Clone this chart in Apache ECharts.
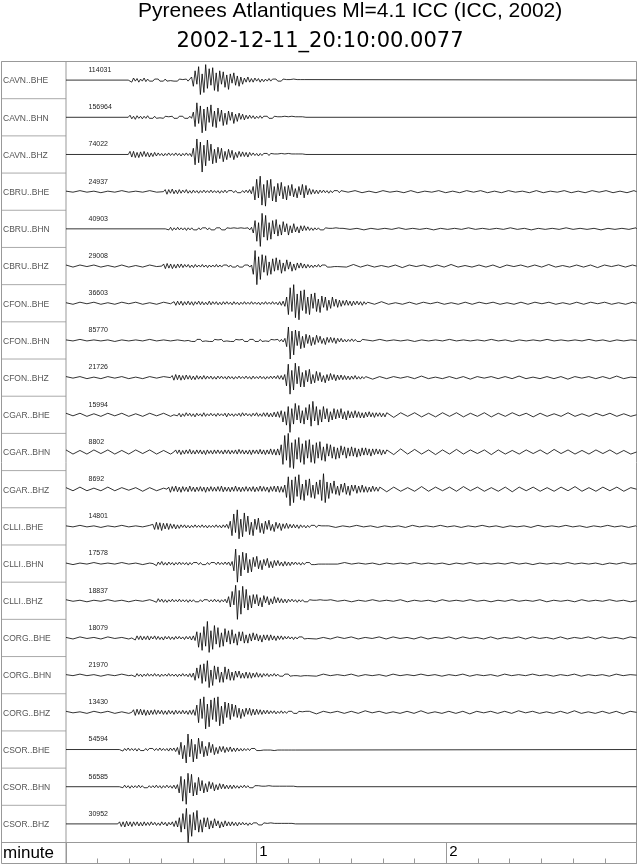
<!DOCTYPE html>
<html>
<head>
<meta charset="utf-8">
<script src="https://cdn.jsdelivr.net/npm/echarts@6.0.0/dist/echarts.min.js"></script>
<style>
  html, body { margin: 0; padding: 0; background: #fff; }
  #chart { width: 640px; height: 866px; }
</style>
</head>
<body>
<div id="chart"></div>
<script>
// Seismogram section: one row per channel, time axis in seconds (0..180 s = 3 minutes).
const TITLE = "Pyrenees Atlantiques Ml=4.1 ICC (ICC, 2002)";
const SUBTITLE = "2002-12-11_20:10:00.0077";
const AXIS_NAME = "minute";

const CHANNELS = [
  "CAVN..BHE", "CAVN..BHN", "CAVN..BHZ",
  "CBRU..BHE", "CBRU..BHN", "CBRU..BHZ",
  "CFON..BHE", "CFON..BHN", "CFON..BHZ",
  "CGAR..BHE", "CGAR..BHN", "CGAR..BHZ",
  "CLLI..BHE", "CLLI..BHN", "CLLI..BHZ",
  "CORG..BHE", "CORG..BHN", "CORG..BHZ",
  "CSOR..BHE", "CSOR..BHN", "CSOR..BHZ",
];
// peak counts printed on each trace
const AMPS = [114031, 156964, 74022, 24937, 40903, 29008, 36603, 85770, 21726,
  15994, 8802, 8692, 14801, 17578, 18837, 18079, 21970, 13430, 54594, 56585, 30952];

// seconds where the dense part of each trace begins
const START = [20.2, 20.2, 20.2, 31.3, 31.9, 30.8, 34.1, 39.1, 33.5, 34.6, 34.6, 32.4,
  27.4, 28, 28, 21.3, 21.3, 21.3, 17.4, 17.4, 16.9];

// slow wobble before the data window, one value every DT_SLOW from t=0
const PRE = [
  [], [], [],
  [0.5,-0.5,1,-0.5,0.5,-1,0.5,-0.5,1,-0.5,0.5,-0.5,1,-0.5],
  [],
  [1,-1,1,-0.5,1,-1,0.5,-1,1,-1,0.5,-1,1,-0.5],
  [0.5,-1,1,-0.5,1,-1,0.5,-1,1,-0.5,1,-1,0.5,-1,1,-0.5],
  [0.5,-0.5,1,-0.5,0.5,-0.5,0.5,-1,0.5,-0.5,0.5,-0.5,1,-0.5,0.5,-0.5,0.5,-0.5],
  [1,-0.5,1,-1,0.5,-1,1,-0.5,1,-1,0.5,-1,1,-0.5,1],
  [1.5,-1,1.5,-1.5,1,-1.5,1.5,-1,1.5,-1.5,1,-1.5,1.5,-1,1.5,-1.5],
  [2,-2,1.5,-2,2,-1.5,2,-2,1.5,-2,2,-1.5,2,-2,1.5,-2],
  [1.5,-1.5,2,-1.5,1,-1.5,2,-1.5,1.5,-1,1.5,-2,1.5,-1.5,1],
  [0.5,-0.5,1,-0.5,0.5,-1,0.5,-0.5,1,-0.5,0.5,-0.5,1],
  [0.5,-1,0.5,-0.5,1,-0.5,0.5,-0.5,1,-0.5,0.5,-1,0.5],
  [1,-0.5,0.5,-1,0.5,-0.5,1,-0.5,0.5,-1,0.5,-0.5,1],
  [0.5,-1,1,-0.5,0.5,-1,1,-0.5,0.5,-1],
  [0.5,-0.5,1,-0.5,0.5,-1,0.5,-0.5,1,-0.5],
  [1,-0.5,0.5,-1,1,-0.5,1,-1,0.5,-1],
  [], [], [],
];

// dense part, one value every DT_SIG from START (row half-height ~18 units)
const SIG = [
  // CAVN..BHE
  [1,-2,2,-1,1.5,-2,1,-1,2,-1.5,1,-1,0.5,-1,1,-0.5,1,-1,0.5,-1,1,-1,0.5,-0.5,1,-1,0.5,-1,1,-0.5,0.5,-1,1,-1,0.5,
   3,-6,9,-4,13,-14,6,-12,15,-8, 11,-5,12,-10,7,-11,9,-4,8,-7, 5,-9,6,-3,7,-5,4,-6,3,-4,
   2,-2,3,-2,1.5,-2,2,-1,1.5,-2,1,-1.5,1,-1,1.5,
   -1,1,-0.5,1,-1,0.5,-1,1,-0.5,0.5,-1,0.5,-0.5,1,-0.5,0.5,-1,0.5,-0.5,0.5],
  // CAVN..BHN
  [2,-1.5,1,-2,1.5,-1,1,-1.5,1,-1,1.5,-1,0.5,-1,1,-1,0.5,-0.5,1,-1,1,-0.5,0.5,-1,1,-1,0.5,-1,1,-0.5,1,-1,0.5,-1,1,-1,
   5,-9,14,-6,11,-15,8,-13,10,-5, 12,-9,6,-10,9,-4,7,-8,4,-7, 6,-3,5,-6,3,-4,4,-2,3,-2.5,
   2,-1.5,2,-1,1.5,-1.5,1,-1,1.5,-1,1,-0.5,1,-1,
   0.5,-1,1,-0.5,0.5,-1,0.5,-0.5,1,-0.5,0.5,-0.5,1,-0.5,0.5,-1,0.5,-0.5,0.5,-0.5],
  // CAVN..BHZ
  [3,-2.5,3,-3,2,-3,2.5,-2,3,-2,2,-2.5,1.5,-2,2,-1.5,1.5,-1,1,-1.5,1,-1,1.5,-1,1,-1,1.5,-1,1,-1.5,1,-1,1.5,-1,1,-2,
   6,-10,15,-8,12,-17,9,-11,14,-6, 10,-9,5,-8,7,-4,6,-7,3,-5, 5,-3,4,-5,2,-3,3,-2,2.5,-2,
   2,-2.5,2,-1,1.5,-1,1,-1.5,1,-1,1,-0.5,1,-1,
   1,-0.5,0.5,-1,0.5,-0.5,1,-0.5,0.5,-0.5,1,-0.5,0.5,-0.5,0.5,-1,0.5,-0.5,0.5,-0.5],
  // CBRU..BHE
  [2,-2.5,2,-1.5,2.5,-2,1.5,-2,2,-1.5,1.5,-1,2,-1.5,1,-1.5,1.5,-1,1,-1.5,1,-1,1.5,-1,1,-1,1.5,-1,1,-1,
   1,-1.5,1,-1,1.5,-1,1,-0.5,1,-1,1,-1,0.5,-1,1,-1,1.5,-1,2,-2,
   5,-8,12,-6,15,-13,7,-14,11,-6, 12,-9,5,-10,8,-4,9,-7,5,-8, 6,-4,7,-5,3,-6,5,-3,7,-6,
   6,-3,3,-2.5,2,-2,1.5,-2,1.5,-1, 1.5,-1,1,-1.5,1,-1,1,-0.5,1,-1],
  // CBRU..BHN
  [1.5,-1,1.5,-1.5,1,-1,1.5,-1,1,-1,1,-1.5,1,-1,1,-1,0.5,-1,1,-1,1,-0.5,1,-1,1,-1,0.5,-1,1,-0.5,
   1,-1,0.5,-1,1,-0.5,0.5,-1,1,-0.5,0.5,-0.5,1,-0.5,0.5,-1,1,-1,1.5,
   -4,8,-12,6,-17,15,-8,13,-11,6, -10,8,-5,9,-7,4,-6,7,-3,5, -6,3,-4,5,-3,2,-4,3,-2,3,
   -1.5,2,-1.5,1,-1.5,1,-1,1,-1,0.5,-1,1,-0.5,0.5,-1,0.5,-0.5,1,-0.5,0.5,-0.5],
  // CBRU..BHZ
  [2,-2.5,2.5,-2,2,-2.5,1.5,-2,2,-1.5,2,-1.5,1.5,-1,1.5,-1.5,1,-1.5,1.5,-1,1,-1,1.5,-1,1,-1.5,1,-1,1,-1,
   1.5,-1,1,-1,1,-0.5,1,-1,1,-1,0.5,-1,1,-1,0.5,-1,1,-0.5,1,-1,1,
   -8,15,-18,9,-13,11,-6,10,-9,4, -8,7,-5,8,-4,6,-7,3,-5,6, -3,4,-5,2,-4,3,-2,3,-2,2,
   -2,1.5,-1.5,1,-1.5,1,-1,1.5,-1,1,-0.5,1,-1,0.5,-1,0.5,-0.5,1,-0.5],
  // CFON..BHE
  [1.5,-2,2,-1.5,2,-2,1.5,-1.5,2,-1.5,1.5,-2,1.5,-1,2,-1.5,1.5,-1.5,1,-1.5,2,-1.5,1.5,-1,1.5,-1.5,1,-1.5,1.5,-1,
   1.5,-1,1,-1.5,1.5,-1,1,-1.5,1,-1,1.5,-1,1,-1,1.5,-1,1,-1,1,-1.5,1,-1,1.5,-1,1,-1,1.5,-1,1,-1.5,1.5,-2,2,-3,
   6,-11,15,-8,18,-14,9,-16,12,-7, 13,-10,6,-11,9,-5,10,-8,4,-9, 7,-4,6,-7,3,-5,6,-3,4,-4,
   3,-3,2.5,-2,3,-2,2,-2.5,2,-1.5,2,-1.5,1.5,-2,1.5,-1],
  // CFON..BHN
  [1,-1,0.5,-1,1,-0.5,1,-1,0.5,-0.5,1,-1,0.5,-1,1,-0.5,0.5,-1,1,-1,0.5,-0.5,1,-1,0.5,-1,1,-0.5,0.5,-1,
   1,-1,0.5,-1,1,-0.5,1,-1,0.5,-1,1,-1,0.5,-0.5,1,-1,1,-0.5,0.5,-1,1,-1,1,-1.5,2,
   -6,13,-18,9,-14,10,-5,9,-8,4, -7,6,-3,5,-5,3,-4,5,-2,4, -3,2,-4,3,-2,3,-2,2.5,-3,2,
   -1.5,2,-1.5,1,-1.5,1,-1,1.5,-1,1,-1,0.5,-1,1,-0.5],
  // CFON..BHZ
  [2,-2.5,3,-2,2.5,-2.5,2,-2,2.5,-1.5,2,-2,1.5,-2,2,-1.5,1.5,-1.5,2,-1.5,1.5,-1,1.5,-1.5,1,-1.5,1.5,-1,1.5,-1,
   1,-1.5,1.5,-1,1,-1.5,1,-1,1.5,-1,1,-1,1.5,-1,1,-1.5,1.5,-1,1,-1,1.5,-1,1,-1.5,1,-1,1.5,-1,1.5,-1,2,-1.5,2,-2,3,
   -8,13,-16,7,-12,14,-6,11,-9,5, -9,7,-4,8,-6,3,-5,6,-3,5, -4,2,-5,3,-3,4,-2,3,-3,2.5,
   -2,2.5,-2,2,-2,1.5,-2,1.5,-1.5,2,-1.5,1,-1.5,1,-1],
  // CGAR..BHE
  [1.5,-1,1.5,-2,1,-1.5,2,-1,1.5,-1.5,1,-2,1.5,-1,1,-1.5,2,-1.5,1,-1,1.5,-1,1,-1.5,1.5,-1,1,-1,1.5,-2,
   1.5,-1,1,-1.5,1,-1,1.5,-1.5,2,-1,1.5,-1,1,-1.5,1.5,-1,2,-1.5,1,-1.5,2,-1.5,2,-2,1.5,-2,2.5,-2,3,-2.5,
   4,-7,3,-10,8,-17,6,-9,11,-5, 9,-8,4,-9,7,-5,10,-11,13,-6, 8,-10,5,-7,8,-4,6,-7,3,-5, 6,-4,5,-3,6,-4,3,-5,4,-3,
   3,-3,4,-2.5,3,-3,2,-3,2.5,-2,3,-2,2,-2.5,2,-1.5,2,-2,1.5,-2],
  // CGAR..BHN
  [2,-1.5,2,-2.5,1.5,-2,2,-1.5,2.5,-2,1.5,-2,2,-1.5,2,-2,1.5,-2.5,2,-1.5,1.5,-2,2,-1.5,2,-1.5,1.5,-2,2,-1.5,
   2,-2,1.5,-1.5,2,-2,2.5,-1.5,2,-2,1.5,-2,2,-2.5,2,-1.5,2,-2,2.5,-2,2,-2.5,2,-2,3,-2.5,2.5,-3,3,-3,
   7,-12,16,-8,18,-15,9,-16,12,-7, 14,-10,8,-12,11,-6,12,-10,7,-11, 9,-6,10,-8,5,-9,8,-4,7,-6, 5,-7,4,-6,6,-3,5,-6,4,-4,
   5,-4,4,-5,3,-4,4,-3,4,-3,3,-4,3,-2.5,3,-2,2.5,-3,2,-2],
  // CGAR..BHZ
  [2,-3,2.5,-2,3,-2.5,2,-3,2.5,-2,2,-2.5,3,-2,2,-2.5,2,-2,2.5,-2,2,-3,2,-2,2.5,-2,2,-2,2.5,-2,
   3,-2.5,2,-2,2,-2.5,2,-2,3,-2,2,-2.5,2,-2,2.5,-2,2,-2,2.5,-2.5,2,-2,3,-2,2.5,-2,2,-3,2.5,-2,3,-2.5,3,-3,2.5,-3,4,
   -8,12,-16,9,-13,12,-7,14,-10,5, -11,9,-6,10,-8,4,-9,7,-5,9, -11,15,-13,7,-9,6,-4,8,-5,3, -6,5,-3,6,-5,3,-6,4,-2,4,
   -4,3,-3,4,-3,2.5,-3,2,-2.5,3,-2,2,-2],
  // CLLI..BHE
  [2,-3,4,-3,3.5,-4,3,-2.5,3,-3,2.5,-2,2,-2.5,1.5,-2,1.5,-1,1.5,-1.5,1,-1.5,1,-1,1.5,-1,1,-1,1.5,-1,
   1,-1.5,1,-1,1,-1,1.5,-1,1,-1.5,1.5,-1,2,-2,
   5,-9,12,-6,16,-12,7,-10,13,-5, 10,-8,4,-9,7,-3,8,-6,3,-7, 5,-3,6,-4,2,-5,4,-2,3,-4,
   2.5,-2,3,-2,2,-1.5,2,-1.5,1.5,-2,1.5,-1,1,-1.5,1,-1,1,-0.5,1,-1,1,-0.5,0.5,-1,0.5,-0.5],
  // CLLI..BHN
  [1.5,-2,1.5,-1,2,-1.5,1,-1.5,1.5,-1,1,-1.5,1,-1,1.5,-1,1,-1,1,-1.5,1,-1,1,-0.5,1,-1,1,-1,0.5,-1,
   1,-1,1,-0.5,1,-1,1.5,-1,1,-1,1.5,-1,1.5,-2,2,
   -7,14,-18,8,-12,11,-6,10,-9,4, -8,6,-3,7,-5,3,-6,4,-2,5, -4,2,-4,3,-2,3,-2,1.5,-2.5,2,
   -2,1.5,-2,1.5,-1,1.5,-1,1,-1.5,1,-1,1,-0.5,1,-1,0.5,-1,0.5,-0.5,1,-0.5,0.5,-0.5,1,-0.5],
  // CLLI..BHZ
  [1.5,-1.5,2,-1,1.5,-1.5,1,-1.5,1,-1,1.5,-1,1,-1,1.5,-1,1,-1,1,-1.5,1,-1,1,-1,0.5,-1,1,-1,1,-0.5,
   1,-1,1,-1,1.5,-1,1,-1.5,1,-1,1.5,-2,
   4,-6,9,-4,15,-18,10,-13,14,-7, 11,-9,5,-7,6,-3,6,-5,3,-6, 5,-2,4,-4,2,-3,4,-2,3,-2,
   2,-2,1.5,-2,1.5,-1,1.5,-1,1,-1.5,1,-1,1,-1,0.5,-1,1,-0.5,0.5,-1,0.5,-0.5,1,-0.5,0.5,-0.5,0.5,-0.5],
  // CORG..BHE
  [1.5,-2,2,-1.5,2,-2,1.5,-1.5,2,-2,1.5,-1,2,-1.5,1.5,-1.5,1,-2,1.5,-1,1.5,-1.5,1,-1.5,1.5,-1,1.5,-1,1,-1.5,
   1.5,-1,1.5,-2,2,-2.5,
   6,-9,5,-12,11,-8,16,-14,7,-11, 12,-6,10,-9,5,-8,9,-4,7,-6, 8,-5,4,-7,6,-3,6,-5,3,-5, 4,-3,5,-2,4,-3,2.5,-4,3,-2,
   3,-2.5,3,-2,2,-2.5,2,-1.5,2,-1.5,1.5,-1,1.5,-1,1,-1.5,1,-1,1,-0.5,1,-1,0.5,-0.5],
  // CORG..BHN
  [1,-1.5,1.5,-1,1,-1.5,1,-1,1.5,-1,1,-1,1.5,-1,1,-1.5,1,-1,1,-1,1.5,-1,1,-1,1,-1.5,1,-1,1.5,-1,
   1,-1.5,1.5,-2,2,
   -5,7,-3,10,-8,11,-6,14,-12,5, -10,9,-4,8,-7,3,-7,8,-4,6, -5,3,-5,4,-2,4,-3,2,-3,3,
   -3,2.5,-3,2,-2,2.5,-2,1.5,-2,1.5,-1,1.5,-1.5,1,-1,1.5,-1,1,-1,0.5,-1,1,-0.5,1,-1,0.5,-0.5,1,-0.5,0.5,-1,0.5,-0.5,0.5,-0.5],
  // CORG..BHZ
  [2.5,-3,3,-2,3,-2.5,2.5,-3,2,-2.5,2,-2,2.5,-2,2,-1.5,2,-2,1.5,-2,2,-1.5,1.5,-2,2,-1.5,1.5,-1.5,2,-1.5,
   1.5,-2,2,-2,2.5,-3,
   7,-10,13,-6,15,-16,8,-14,12,-7, 14,-9,15,-13,6,-11,10,-5,9,-7, 8,-4,7,-5,4,-6,3,-4,4,-2,
   4,-3,3,-2.5,3,-2,2.5,-2,2,-1.5,2,-1.5,1.5,-1,1.5,-1.5,1,-1,1.5,-1,1,-1,1,-0.5,1,-1,0.5,-1,1,-0.5,0.5,-0.5,1,-0.5],
  // CSOR..BHE
  [1,-1.5,1,-1,1.5,-1,1,-1,1,-1.5,1,-1,0.5,-1,1,-1,1,-0.5,1,-1,1,-1,1.5,-1,1,-1,1,-1.5,1.5,-1,
   1.5,-2,2,
   -5,7,-9,4,-13,15,-7,10,-12,5, -9,11,-4,8,-7,3,-6,7,-3,5, -5,2,-4,3,-2,3,-3,2,-2,2.5,
   -2,1.5,-2,1.5,-1.5,1,-1.5,1,-1,1,-1,1,-0.5,1,-1,0.5,-1,0.5,-0.5,1,-0.5,0.5,-0.5,0.5,-1,0.5,-0.5,0.5,-0.5,0.5,-0.5,1,-0.5,0.5,-0.5,0.5,-0.5],
  // CSOR..BHN
  [1,-1,1.5,-1,1,-1.5,1,-1,1,-1,1.5,-1,1,-1,0.5,-1,1,-1,1,-1,1.5,-1,1,-1.5,1,-1,1.5,-1,1,-1.5,
   1.5,-2,2,
   -6,10,-14,7,-17,13,-6,12,-9,4, -8,9,-4,6,-6,3,-5,5,-2,4, -4,2,-3,3,-2,2.5,-2,1.5,-2,1.5,
   -2,1.5,-1.5,1,-1.5,1,-1,1.5,-1,1,-1,0.5,-1,1,-0.5,1,-0.5,0.5,-1,0.5,-0.5,1,-0.5,0.5,-0.5,0.5,-0.5,0.5,-1,0.5,-0.5,0.5,-0.5,0.5,-0.5,0.5,-0.5],
  // CSOR..BHZ
  [2,-2.5,2,-3,2.5,-2,2,-2.5,2,-1.5,2,-2,1.5,-2,2,-1.5,1.5,-1.5,2,-1,1.5,-1.5,1,-1.5,2,-1,1.5,-2,1.5,-1,
   2,-2.5,3,-3,
   6,-8,10,-5,15,-18,9,-12,11,-6, 13,-8,4,-8,6,-3,6,-5,3,-4, 5,-2,3,-4,2,-3,3,-2,2,-2,
   2,-1.5,1.5,-2,1.5,-1,1.5,-1,1,-1.5,1,-1,1,-0.5,1,-1,0.5,-1,1,-0.5,0.5,-0.5,1,-0.5,0.5,-0.5,0.5,-1,0.5,-0.5,0.5,-0.5,0.5,-0.5,0.5,-0.5],
];

// slow wobble after the dense part, one value every DT_SLOW
const TAIL = [
  [], [], [],
  [1,-0.5,1,-1,0.5,-1,1,-0.5,0.5,-1,1,-1,0.5,-0.5,1,-1,0.5,-1,1,-0.5,1,-1,0.5,-1,1,-0.5,0.5,-1,1,-1,0.5,-0.5,1,-1,0.5,-1,1,-0.5,1,-1,0.5,-1,1,-0.5,0.5,-1,1,-1,0.5,-0.5,1,-0.5],
  [0.5,-0.5,0.5,-1,0.5,-0.5,0.5,-0.5,1,-0.5,0.5,-0.5,0.5,-1,0.5,-0.5,0.5,-0.5,1,-0.5,0.5,-0.5,0.5,-0.5,1,-0.5,0.5,-1,0.5,-0.5,0.5,-0.5,1,-0.5,0.5,-0.5,0.5,-1,0.5,-0.5,0.5,-0.5,1,-0.5,0.5,-0.5,0.5,-0.5,1,-0.5,0.5],
  [1,-1,1.5,-1,1,-1,0.5,-1,1,-1.5,1,-0.5,1,-1,1,-1,1.5,-1,0.5,-1,1,-1,1,-1.5,1,-0.5,1,-1,1,-1,1.5,-1,0.5,-1,1,-1,1,-1.5,1,-0.5,1,-1,1,-1,1.5,-1,0.5,-1,1,-1,1,-1],
  [1,-1,1.5,-1,0.5,-1,1,-1,1,-0.5,1,-1,0.5,-1,1,-1,1,-0.5,1,-1,0.5,-1,1,-1,1,-0.5,1,-1,0.5,-1,1,-1,1,-0.5,1,-1,0.5,-1,1,-1,1,-0.5,1,-1,0.5,-1,1,-1],
  [0.5,-0.5,1,-0.5,0.5,-0.5,0.5,-1,0.5,-0.5,0.5,-0.5,1,-0.5,0.5,-0.5,0.5,-0.5,1,-0.5,0.5,-1,0.5,-0.5,0.5,-0.5,1,-0.5,0.5,-0.5,0.5,-0.5,1,-0.5,0.5,-1,0.5,-0.5,0.5,-0.5,1,-0.5,0.5,-0.5,0.5,-0.5,1,-0.5],
  [1,-1.5,1,-1,1,-0.5,1,-1,1.5,-1,0.5,-1,1,-1,1,-1.5,1,-0.5,1,-1,1,-1,1.5,-1,0.5,-1,1,-1,1,-1.5,1,-0.5,1,-1,1,-1,1.5,-1,0.5,-1,1,-1,1,-1.5,1,-0.5,1,-1],
  [2,-2.5,2,-1.5,2,-2,1.5,-2,2,-1.5,2,-2,1.5,-1.5,2,-2,1.5,-1.5,2,-1,1.5,-2,1.5,-1.5,1,-1.5,2,-1.5,1,-1.5,1.5,-1,1.5,-1.5,1,-1.5,1.5,-1,1.5,-1,1,-1.5,1.5,-1,1],
  [2,-2.5,3,-2,2.5,-2,2,-2.5,2,-2,2.5,-2,2,-1.5,2,-2.5,2,-2,1.5,-2,2,-1.5,2,-2,2.5,-1.5,2,-2,1.5,-2,2,-1.5,2,-2,1.5,-2,2,-1.5,1.5,-2,2,-1.5,1.5,-2,1.5],
  [2,-2.5,2,-2,1.5,-2,2.5,-2,2,-1.5,2,-2,2.5,-1.5,2,-2,1.5,-2,2,-2.5,2,-1.5,2,-2,1.5,-2,2,-1.5,2.5,-2,1.5,-2,2,-1.5,2,-2,1.5,-2,2,-1.5,2,-2,1.5,-1.5,2,-1.5],
  [0.5,-1,0.5,-0.5,1,-0.5,0.5,-1,0.5,-0.5,0.5,-1,1,-0.5,0.5,-0.5,1,-0.5,0.5,-1,0.5,-0.5,1,-0.5,0.5,-1,0.5,-0.5,0.5,-1,1,-0.5,0.5,-0.5,1,-0.5,0.5,-1,0.5,-0.5,1,-0.5,0.5,-1,0.5,-0.5,0.5,-1,1,-0.5,0.5,-0.5,0.5],
  [0.5,-0.5,1,-0.5,0.5,-0.5,0.5,-1,0.5,-0.5,0.5,-0.5,1,-0.5,0.5,-0.5,0.5,-1,0.5,-0.5,1,-0.5,0.5,-0.5,0.5,-0.5,1,-0.5,0.5,-1,0.5,-0.5,0.5,-0.5,1,-0.5,0.5,-0.5,0.5,-1,0.5,-0.5,1,-0.5,0.5,-0.5,0.5,-0.5,1,-0.5,0.5,-1,0.5],
  [1,-0.5,0.5,-1,0.5,-0.5,1,-0.5,0.5,-0.5,1,-1,0.5,-0.5,0.5,-1,1,-0.5,0.5,-0.5,1,-0.5,0.5,-1,0.5,-0.5,1,-0.5,0.5,-0.5,1,-1,0.5,-0.5,0.5,-1,1,-0.5,0.5,-0.5,1,-0.5,0.5,-1,0.5,-0.5,1,-0.5,0.5,-0.5,1,-1,0.5],
  [1,-1,0.5,-1,1,-0.5,1,-1,0.5,-0.5,1,-1,1,-0.5,0.5,-1,1,-1,0.5,-0.5,1,-1,1,-0.5,0.5,-1,1,-1,0.5,-0.5,1,-1,1,-0.5,0.5,-1,1,-1,0.5,-0.5,1,-1,1,-0.5,0.5,-1,1,-1,0.5,-0.5,1,-1,1,-0.5,0.5,-1],
  [0.5,-1,1,-0.5,0.5,-0.5,1,-1,0.5,-0.5,0.5,-1,1,-0.5,0.5,-0.5,1,-0.5,0.5,-1,0.5,-0.5,1,-1,0.5,-0.5,0.5,-1,1,-0.5,0.5,-0.5,1,-0.5,0.5,-1,0.5,-0.5,1,-1,0.5,-0.5,0.5,-1,1,-0.5,0.5,-0.5,1,-0.5,0.5,-1,0.5,-0.5,1,-0.5],
  [1,-1.5,1,-0.5,1,-1,1,-1,1.5,-0.5,1,-1,0.5,-1,1,-1,1.5,-1,0.5,-1,1,-1,1,-1.5,1,-0.5,1,-1,1,-1,1.5,-0.5,1,-1,0.5,-1,1,-1,1.5,-1,0.5,-1,1,-1,1,-1.5,1,-0.5,1,-1,1,-1,1.5,-0.5,1,-1],
  [], [], [],
];

const T_MAX = 180;          // 3 minutes
const DT_SIG = 0.555, DT_SLOW = 2.2;
const FONT = "'Liberation Sans', Arial, Helvetica, sans-serif";

function trace(k) {
  const pts = [];
  if (!PRE[k].length) pts.push([0, 0]);
  PRE[k].forEach((v, i) => pts.push([i * DT_SLOW, v]));
  pts.push([START[k] - DT_SIG, 0]);
  SIG[k].forEach((v, i) => pts.push([START[k] + i * DT_SIG, v]));
  const t1 = START[k] + SIG[k].length * DT_SIG;
  if (!TAIL[k].length) pts.push([t1, 0]);
  TAIL[k].forEach((v, i) => pts.push([t1 + i * DT_SLOW, v]));
  const out = pts.filter((p) => p[0] <= T_MAX);
  if (out[out.length - 1][0] < T_MAX) out.push([T_MAX, 0]);
  return out;
}

const ROW_TOP = 61.5, AXIS_TOP = 842.5, FRAME_BOTTOM = 863.5;
const ROW_H = (AXIS_TOP - ROW_TOP) / CHANNELS.length;
const LEFT = 66, RIGHT_EDGE = 636.5;
const Y_HALF = 18;

const grids = [], xAxes = [], yAxes = [], series = [], graphics = [];

CHANNELS.forEach((name, k) => {
  const top = ROW_TOP + k * ROW_H;
  grids.push({ left: LEFT, width: RIGHT_EDGE - LEFT, top: top, height: ROW_H });
  xAxes.push({ type: "value", gridIndex: k, min: 0, max: T_MAX, show: false });
  yAxes.push({ type: "value", gridIndex: k, min: -Y_HALF, max: Y_HALF, show: false });
  series.push({
    type: "line", xAxisIndex: k, yAxisIndex: k, data: trace(k),
    showSymbol: false, clip: false, silent: true,
    lineStyle: { color: "#000", width: 0.8 },
  });
  graphics.push(
    { type: "line", shape: { x1: 1.5, y1: top, x2: LEFT, y2: top },
      style: { stroke: "#aaa", lineWidth: 1 }, silent: true },
    { type: "text", x: 3, y: top + ROW_H / 2 + 1,
      style: { text: name, fill: "#555", font: "8.5px " + FONT, verticalAlign: "middle" } },
    { type: "text", x: 88.5, y: top + 8.5,
      style: { text: String(AMPS[k]), fill: "#222", font: "7px " + FONT, verticalAlign: "middle" } }
  );
});

// bottom time axis (minutes)
const B = CHANNELS.length;
grids.push({ left: LEFT, width: RIGHT_EDGE - LEFT, top: AXIS_TOP, height: FRAME_BOTTOM - AXIS_TOP });
xAxes.push({
  type: "value", gridIndex: B, min: 0, max: T_MAX, interval: 10, position: "bottom",
  axisLine: { show: false }, axisLabel: { show: false }, splitLine: { show: false },
  axisTick: { inside: true, length: 5, lineStyle: { color: "#999" } },
});
xAxes.push({
  type: "value", gridIndex: B, min: 0, max: T_MAX, interval: 60, position: "top",
  axisLine: { show: false }, axisTick: { show: false },
  splitLine: { show: true, lineStyle: { color: "#999", width: 1 } },
  axisLabel: {
    inside: true, margin: 2, align: "left", verticalAlign: "top", padding: [0, 0, 0, 3],
    fontSize: 15, color: "#000", fontFamily: FONT,
    formatter: (v) => (v > 0 && v < T_MAX ? String(v / 60) : ""),
  },
});
yAxes.push({ type: "value", gridIndex: B, min: 0, max: 1, show: false });

graphics.push(
  { type: "rect", shape: { x: 1.5, y: ROW_TOP, width: RIGHT_EDGE - 1.5, height: FRAME_BOTTOM - ROW_TOP },
    style: { fill: "none", stroke: "#999", lineWidth: 1 }, silent: true },
  { type: "line", shape: { x1: LEFT, y1: ROW_TOP, x2: LEFT, y2: FRAME_BOTTOM },
    style: { stroke: "#999", lineWidth: 1 }, silent: true },
  { type: "line", shape: { x1: 1.5, y1: AXIS_TOP, x2: RIGHT_EDGE, y2: AXIS_TOP },
    style: { stroke: "#999", lineWidth: 1 }, silent: true },
  { type: "text", x: 3, y: (AXIS_TOP + FRAME_BOTTOM) / 2,
    style: { text: AXIS_NAME, fill: "#000", font: "17px " + FONT, verticalAlign: "middle" } }
);

const chart = echarts.init(document.getElementById("chart"), null, { renderer: "canvas" });
chart.setOption({
  backgroundColor: "#fff",
  animation: false,
  title: [
    { text: TITLE, left: 138, top: 1, padding: 0,
      textStyle: { fontSize: 21, fontWeight: "normal", color: "#000", fontFamily: FONT } },
    { text: SUBTITLE, left: "center", top: 31, padding: 0,
      textStyle: { fontSize: 21, fontWeight: "normal", color: "#000", fontFamily: "'DejaVu Sans', sans-serif" } },
  ],
  grid: grids,
  xAxis: xAxes,
  yAxis: yAxes,
  series: series,
  graphic: graphics,
});
</script>
</body>
</html>
